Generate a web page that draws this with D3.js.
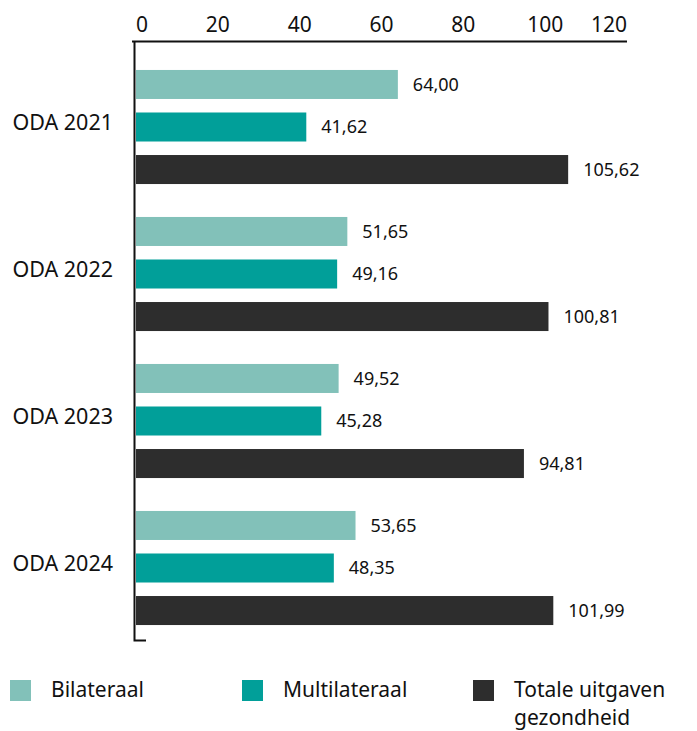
<!DOCTYPE html>
<html>
<head>
<meta charset="utf-8">
<script src="https://cdn.jsdelivr.net/npm/d3@7"></script>
<style>
  body { margin: 0; background: #fff; }
  text { font-family: "Noto Sans", sans-serif; fill: #111; }
</style>
</head>
<body>
<div id="chart"></div>
<script>
var svgWidth = 697;
var svgHeight = 731;

// Data
var groups = ["ODA 2021", "ODA 2022", "ODA 2023", "ODA 2024"];
var seriesNames = ["Bilateraal", "Multilateraal", "Totale uitgaven gezondheid"];
var bilateraal = [64.00, 51.65, 49.52, 53.65];
var multilateraal = [41.62, 49.16, 45.28, 48.35];
var totaal = [105.62, 100.81, 94.81, 101.99];
var xTicks = [0, 20, 40, 60, 80, 100, 120];
var colors = ["#82c1b9", "#019f99", "#2d2d2d"];

var seriesValues = [bilateraal, multilateraal, totaal];

var svg = d3.select("#chart")
    .append("svg")
    .attr("width", svgWidth)
    .attr("height", svgHeight);

// Scales
var x = d3.scaleLinear()
    .domain([0, 120])
    .range([136, 627]);

var y = d3.scaleBand()
    .domain(groups)
    .range([53.5, 641.5])
    .paddingInner(0.224)
    .paddingOuter(0.112);

var ySub = d3.scaleBand()
    .domain(d3.range(seriesNames.length))
    .range([0, y.bandwidth()])
    .paddingInner(0.318)
    .paddingOuter(0);

var fmt = function(v) { return d3.format(".2f")(v).replace(".", ","); };

// Bars
var groupG = svg.selectAll(".group")
    .data(groups)
    .enter()
    .append("g")
    .attr("class", "group")
    .attr("transform", d => `translate(0, ${y(d)})`);

groupG.each(function(g, gi) {
    var sel = d3.select(this);
    seriesValues.forEach(function(vals, si) {
        sel.append("rect")
            .attr("x", x(0))
            .attr("y", ySub(si))
            .attr("width", x(vals[gi]) - x(0))
            .attr("height", ySub.bandwidth())
            .attr("fill", colors[si]);

        sel.append("text")
            .attr("x", x(vals[gi]) + 15)
            .attr("y", ySub(si) + ySub.bandwidth() / 2)
            .attr("dy", "0.35em")
            .attr("font-size", 18)
            .text(fmt(vals[gi]));
    });

    sel.append("text")
        .attr("x", 113)
        .attr("y", y.bandwidth() / 2 - 5)
        .attr("dy", "0.35em")
        .attr("text-anchor", "end")
        .attr("font-size", 21.5)
        .text(g);
});

// Top axis
svg.append("line")
    .attr("x1", 132).attr("x2", x(120))
    .attr("y1", 41.5).attr("y2", 41.5)
    .attr("stroke", "#111").attr("stroke-width", 2);

svg.selectAll(".tick-label")
    .data(xTicks)
    .enter()
    .append("text")
    .attr("class", "tick-label")
    .attr("x", x)
    .attr("y", 32)
    .attr("font-size", 21)
    .attr("text-anchor", (d, i) => i === 0 ? "start" : (i === xTicks.length - 1 ? "end" : "middle"))
    .text(d => d);

// Left axis
svg.append("path")
    .attr("d", `M134.5,41 V640.5 H146`)
    .attr("fill", "none")
    .attr("stroke", "#111")
    .attr("stroke-width", 2);

// Legend
var legendX = [10, 242, 473];
var legend = svg.selectAll(".legend")
    .data(seriesNames)
    .enter()
    .append("g")
    .attr("class", "legend")
    .attr("transform", (d, i) => `translate(${legendX[i]}, 680)`);

legend.append("rect")
    .attr("width", 21)
    .attr("height", 21)
    .attr("fill", (d, i) => colors[i]);

legend.each(function(d) {
    var lines = d === "Totale uitgaven gezondheid" ? ["Totale uitgaven", "gezondheid"] : [d];
    var t = d3.select(this);
    lines.forEach(function(l, li) {
        t.append("text")
            .attr("x", 41)
            .attr("y", 17 + li * 28)
            .attr("font-size", 21)
            .text(l);
    });
});
</script>
</body>
</html>
